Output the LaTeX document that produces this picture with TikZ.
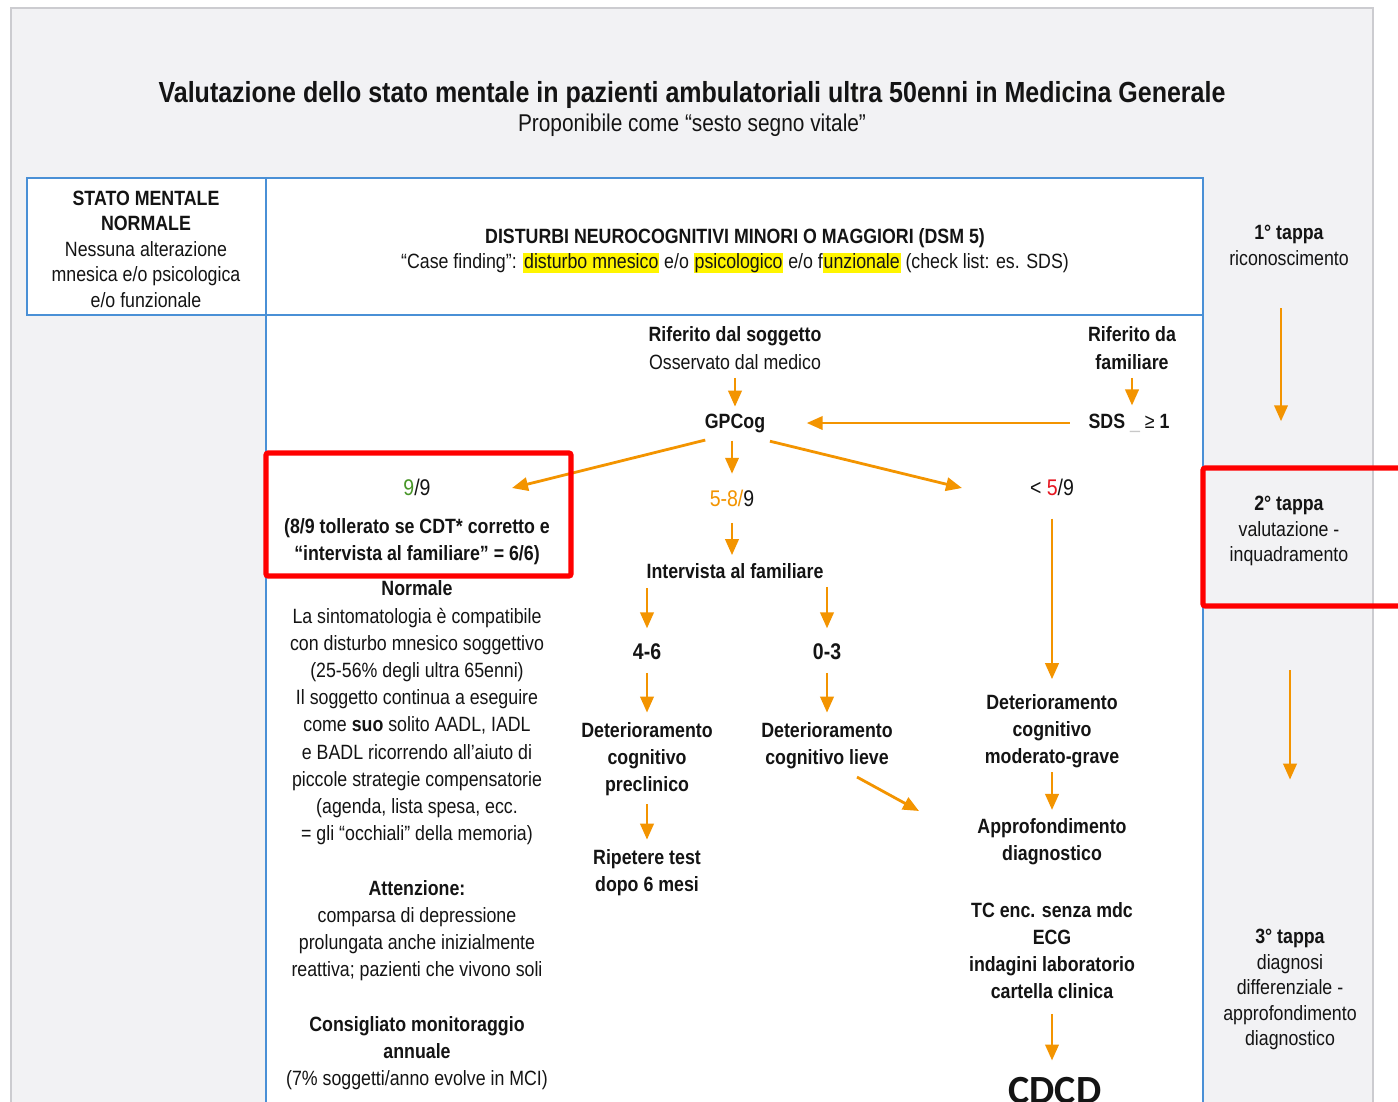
\documentclass[tikz,border=0pt]{standalone}
\usepackage{fontspec}
\setmainfont{Liberation Sans}[FakeStretch=0.86]
\newfontfamily\cdcdfont{Carlito}
\usetikzlibrary{arrows.meta}

\definecolor{bggray}{RGB}{242,242,244}
\definecolor{framegray}{RGB}{204,204,208}
\definecolor{tblue}{RGB}{74,144,214}
\definecolor{flow}{RGB}{243,148,0}
\definecolor{alert}{RGB}{255,0,0}
\definecolor{hlyellow}{RGB}{255,245,0}
\definecolor{okgreen}{RGB}{72,150,40}
\definecolor{lowred}{RGB}{230,20,30}
\definecolor{ink}{RGB}{20,20,20}
\definecolor{faint}{RGB}{200,200,200}

% yellow marker behind a word
\newcommand\hl[1]{{\setlength{\fboxsep}{0.6pt}\colorbox{hlyellow}{\vphantom{Ag}#1}}}

\begin{document}
\begin{tikzpicture}[x=0.75pt,y=-0.75pt,
  txt/.style={inner sep=0pt, align=center, text=ink, yshift=-1.5pt, font=\fontsize{15.5}{20.4}\selectfont},
  bold/.style={txt, font=\fontsize{15.5}{20.4}\selectfont\bfseries},
  cell/.style={txt, font=\fontsize{15.5}{19.1}\selectfont},
  score/.style={inner sep=0pt, text=ink, yshift=-1pt, font=\fontsize{17}{20}\selectfont},
  flowarrow/.style={draw=flow, line width=2.1pt, -{Triangle[width=10pt,length=12pt]}},
  redframe/.style={draw=alert, line width=3.8pt, rounded corners=1.5pt},
  rule/.style={draw=tblue, line width=0.8pt}]

\path[use as bounding box] (0,0) rectangle (1398,1101);
\clip (0,0) rectangle (1398,1101);

% sheet and panels
\fill[white] (0,0) rectangle (1398,1101);
\fill[bggray] (11,8) rectangle (1373,1110);
\draw[framegray, line width=1.5pt] (11,1110) -- (11,8) -- (1373,8) -- (1373,1110);
\filldraw[fill=white, rule] (27,178) rectangle (1203,315);
\fill[white] (266,315) rectangle (1203,1110);
\draw[rule] (266,178) -- (266,1110) (1203,178) -- (1203,1110) (27,315) -- (1203,315);

% title
\node[inner sep=0pt, text=ink, yshift=-1.5pt, font=\fontsize{21.8}{25}\selectfont\bfseries] (title) at (692,93)
  {Valutazione dello stato mentale in pazienti ambulatoriali ultra 50enni in Medicina Generale};
\node[txt, font=\fontsize{18.2}{21}\selectfont] (subtitle) at (692,123) {Proponibile come “sesto segno vitale”};

% header row
\node[cell] (normcell) at (146,247)
  {\textbf{STATO MENTALE}\\\textbf{NORMALE}\\Nessuna alterazione\\mnesica e/o psicologica\\e/o funzionale};
\node[bold] (dsm) at (735,236) {DISTURBI NEUROCOGNITIVI MINORI O MAGGIORI (DSM 5)};
\node[txt] (casefind) at (735,261)
  {“Case finding”: \hl{disturbo mnesico} e/o \hl{psicologico} e/o f\hl{unzionale} (check list: es. SDS)};

% stage column
\node[cell] (t1) at (1289,243.5) {\textbf{1° tappa}\\riconoscimento};
\node[cell] (t2) at (1289,529) {\textbf{2° tappa}\\valutazione -\\inquadramento};
\node[cell] (t3) at (1290,987.5) {\textbf{3° tappa}\\diagnosi\\differenziale -\\approfondimento\\diagnostico};
\draw[flowarrow, shorten <=32pt, shorten >=56pt] ([shift={(-8,0)}]t1.south) -- ([shift={(-8,0)}]t2.north);
\draw[flowarrow, shorten <=78pt, shorten >=112pt] ([shift={(1,0)}]t2.south) -- (t3.north);

% entry points
\node[txt, font=\fontsize{15.5}{21}\selectfont] (rif) at (735,346) {\textbf{Riferito dal soggetto}\\Osservato dal medico};
\node[bold, font=\fontsize{15.5}{21}\selectfont\bfseries] (fam) at (1132,346) {Riferito da\\familiare};
\node[bold] (gpcog) at (735,421) {GPCog};
\node[txt] (sds) at (1129,421) {\textbf{SDS} \textcolor{faint}{\_} ≥ \textbf{1}};

\draw[flowarrow, shorten <=6pt, shorten >=5pt] (rif) -- (gpcog);
\draw[flowarrow, shorten <=6pt, shorten >=6pt] (fam) -- (fam |- sds.north);
\draw[flowarrow, shorten <=14pt, shorten >=31pt] (sds) -- (gpcog);

% GPCog outcomes
\node[score] (n99) at (417,486) {\textcolor{okgreen}{9}/9};
\node[score] (n58) at (732,497) {\textcolor{flow}{5-8/}9};
\node[score] (n59) at (1052,486) {< \textcolor{lowred}{5}/9};
\coordinate (end99) at (512,488);
\coordinate (end59) at (962,488);
\draw[flowarrow, shorten <=23pt] (gpcog.south) -- (end99);
\draw[flowarrow, shorten <=6pt, shorten >=12pt] (gpcog.south -| n58) -- (n58);
\draw[flowarrow, shorten <=27pt] (gpcog.south) -- (end59);

% normal branch
\node[bold] (tol) at (417,539.5) {(8/9 tollerato se CDT* corretto e\\“intervista al familiare” = 6/6)};
\draw[redframe] (266,453) rectangle (571,576);
\node[txt] (normale) at (417,711)
  {\textbf{Normale}\\La sintomatologia è compatibile\\con disturbo mnesico soggettivo\\(25-56\% degli ultra 65enni)\\Il soggetto continua a eseguire\\come \textbf{suo} solito AADL, IADL\\e BADL ricorrendo all’aiuto di\\piccole strategie compensatorie\\(agenda, lista spesa, ecc.\\= gli “occhiali” della memoria)};
\node[txt] (attn) at (417,928.5)
  {\textbf{Attenzione:}\\comparsa di depressione\\prolungata anche inizialmente\\reattiva; pazienti che vivono soli};
\node[txt] (monit) at (417,1051)
  {\textbf{Consigliato monitoraggio}\\\textbf{annuale}\\(7\% soggetti/anno evolve in MCI)};

% intermediate branch
\node[bold] (interv) at (735,569) {Intervista al familiare};
\node[score, font=\fontsize{17}{20}\selectfont\bfseries] (n46) at (647,650) {4-6};
\node[score, font=\fontsize{17}{20}\selectfont\bfseries] (n03) at (827,650) {0-3};
\node[bold] (detpre) at (647,757) {Deterioramento\\cognitivo\\preclinico};
\node[bold] (detlie) at (827,743.5) {Deterioramento\\cognitivo lieve};
\node[bold] (repeat) at (647,870.5) {Ripetere test\\dopo 6 mesi};
\coordinate (endlie) at (919,811);

\draw[flowarrow, shorten <=12pt, shorten >=6pt] (n58) -- (n58 |- interv.north);
\draw[flowarrow, shorten <=7pt, shorten >=11pt] (interv.south -| n46) -- (n46);
\draw[flowarrow, shorten <=6pt, shorten >=11pt] (interv.south -| n03) -- (n03);
\draw[flowarrow, shorten <=10pt, shorten >=7pt] (n46) -- (n46 |- detpre.north);
\draw[flowarrow, shorten <=10pt, shorten >=7pt] (n03) -- (n03 |- detlie.north);
\draw[flowarrow, shorten <=6pt, shorten >=7pt] (detpre) -- (repeat);
\draw[flowarrow] ([shift={(30,8)}]detlie.south) -- (endlie);

% severe branch
\node[bold] (detmod) at (1052,729) {Deterioramento\\cognitivo\\moderato-grave};
\node[bold] (approf) at (1052,839.5) {Approfondimento\\diagnostico};
\node[bold] (exams) at (1052,948.5) {TC enc. senza mdc\\ECG\\indagini laboratorio\\cartella clinica};
\node[inner sep=0pt, anchor=base, text=ink, font=\fontsize{30}{32}\selectfont\cdcdfont\bfseries] (cdcd) at (1055,1103) {CDCD};

\draw[flowarrow, shorten <=17pt, shorten >=11pt] (n59) -- (detmod);
\draw[flowarrow, shorten <=3pt, shorten >=6pt] (detmod) -- (approf);
\draw[flowarrow, shorten <=11pt, shorten >=12pt] (exams.south) -- (exams.south |- cdcd.north);

% stage highlight
\draw[redframe] (1203,468) rectangle (1420,606);
\end{tikzpicture}
\end{document}
